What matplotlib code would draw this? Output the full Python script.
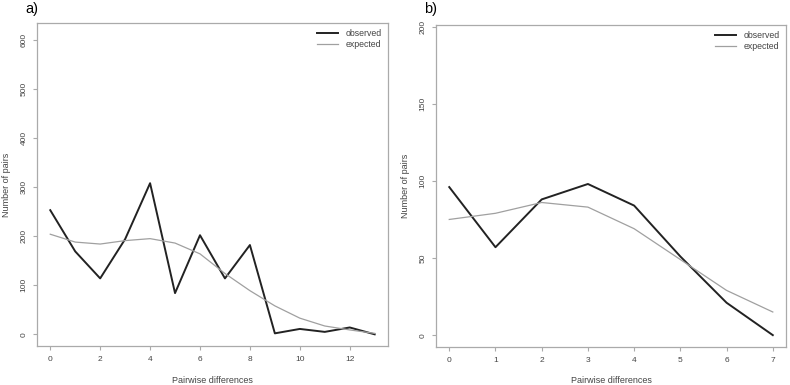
import matplotlib.pyplot as plt

# panel a)
diffs_a = list(range(14))
observed_a = [253, 169, 114, 194, 308, 84, 202, 114, 182, 2, 11, 5, 14, 0]
expected_a = [204, 188, 184, 191, 195, 186, 164, 124, 89, 58, 33, 17, 9, 2]
yticks_a = [0, 100, 200, 300, 400, 500, 600]
xticks_a = [0, 2, 4, 6, 8, 10, 12]

# panel b)
diffs_b = list(range(8))
observed_b = [96, 57, 88, 98, 84, 51, 21, 0]
expected_b = [75, 79, 86, 83, 69, 49, 29, 15]
yticks_b = [0, 50, 100, 150, 200]
xticks_b = list(range(8))

plt.rcParams["font.family"] = ["Liberation Sans", "DejaVu Sans"]

fig = plt.figure(figsize=(7.9, 3.85), dpi=100)
ax_a = fig.add_axes([0.0472, 0.1005, 0.4435, 0.8397])
ax_b = fig.add_axes([0.5523, 0.0987, 0.4423, 0.836])

text_col = "#444444"
axis_col = "#aaaaaa"


def style(ax, x, obs, exp, xticks, yticks, ylim):
    ax.plot(x, obs, color="#222222", lw=1.4, label="observed")
    ax.plot(x, exp, color="#a0a0a0", lw=0.9, label="expected")
    pad = (x[-1] - x[0]) * 0.04
    ax.set_xlim(x[0] - pad, x[-1] + pad)
    ax.set_ylim(*ylim)
    ax.set_xticks(xticks)
    ax.set_yticks(yticks)
    ax.set_yticklabels([str(t) for t in yticks], rotation=90, va="center")
    ax.tick_params(colors=axis_col, labelcolor=text_col, labelsize=6,
                   length=3, width=0.8, pad=4)
    for s in ax.spines.values():
        s.set_color(axis_col)
        s.set_linewidth(0.9)
    ax.set_xlabel("Pairwise differences", fontsize=6.5, color=text_col, labelpad=9)
    ax.set_ylabel("Number of pairs", fontsize=6.5, color=text_col, labelpad=7)
    ax.legend(loc="upper right", frameon=False, fontsize=6.3, handlelength=2.5,
              labelcolor=text_col, borderaxespad=0.3, labelspacing=0.25)


style(ax_a, diffs_a, observed_a, expected_a, xticks_a, yticks_a, (-24.4, 634.4))
style(ax_b, diffs_b, observed_b, expected_b, xticks_b, yticks_b, (-7.7, 201))

# panel letters
fig.text(25 / 790, 1 - 2 / 385, "a)", fontsize=10.5, ha="left", va="top")
fig.text(424 / 790, 1 - 2 / 385, "b)", fontsize=10.5, ha="left", va="top")

fig.savefig("out.png", dpi=100)
